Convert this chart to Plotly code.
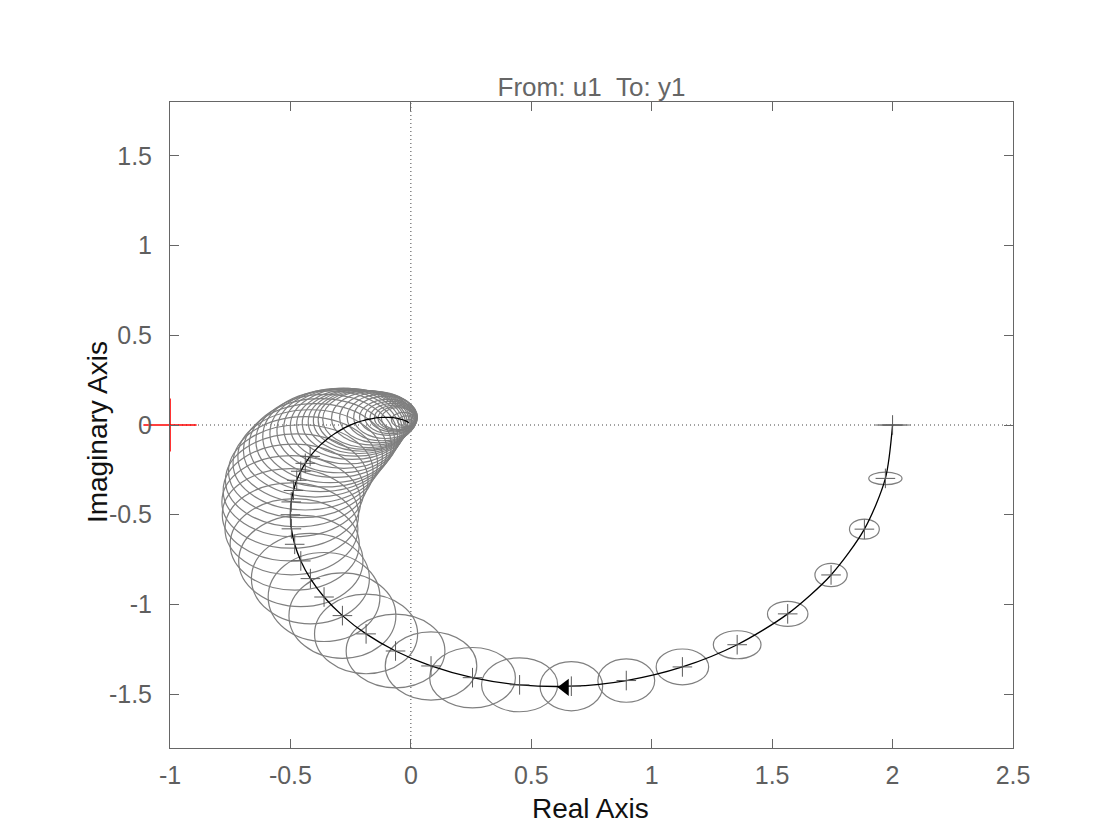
import plotly.graph_objects as go

# Frequency points (rad/s) of the estimated response
omega = [0.00, 0.05, 0.10, 0.15, 0.20, 0.25, 0.30, 0.35, 0.40, 0.45, 0.50,
         0.55, 0.60, 0.65, 0.70, 0.75, 0.80, 0.85, 0.90, 0.95, 1.00,
         1.05, 1.10, 1.15, 1.20, 1.25, 1.30, 1.35, 1.40, 1.45, 1.50,
         1.55, 1.60, 1.65, 1.70, 1.75, 1.80, 1.85, 1.90, 1.95, 2.00,
         2.10, 2.20, 2.30, 2.40, 2.50, 2.60, 2.70, 2.80, 2.90, 3.00,
         3.50, 4.00, 5.00]

# Nominal response (real / imaginary parts)
resp_re = [2.0000, 1.9702, 1.8830, 1.7446, 1.5646, 1.3548, 1.1274, 0.8944, 0.6663, 0.4515, 0.2560,
           0.0837, -0.0636, -0.1859, -0.2842, -0.3604, -0.4171, -0.4569, -0.4823, -0.4959, -0.5000,
           -0.4966, -0.4873, -0.4738, -0.4571, -0.4383, -0.4182, -0.3974, -0.3763, -0.3555, -0.3350,
           -0.3152, -0.2961, -0.2779, -0.2606, -0.2442, -0.2288, -0.2143, -0.2007, -0.1879, -0.1760,
           -0.1545, -0.1358, -0.1195, -0.1054, -0.0932, -0.0825, -0.0733, -0.0652, -0.0582, -0.0520,
           -0.0307, -0.0191, -0.0084]
resp_im = [0.0000, -0.2975, -0.5804, -0.8356, -1.0526, -1.2245, -1.3482, -1.4241, -1.4556, -1.4480, -1.4080,
           -1.3428, -1.2594, -1.1641, -1.0623, -0.9585, -0.8561, -0.7576, -0.6648, -0.5787, -0.5000,
           -0.4287, -0.3648, -0.3080, -0.2577, -0.2136, -0.1750, -0.1414, -0.1123, -0.0872, -0.0655,
           -0.0470, -0.0312, -0.0178, -0.0064, 0.0033, 0.0113, 0.0181, 0.0237, 0.0283, 0.0320,
           0.0374, 0.0406, 0.0423, 0.0429, 0.0426, 0.0418, 0.0407, 0.0392, 0.0377, 0.0360,
           0.0278, 0.0212, 0.0125]

# Confidence-region semi-axes (real / imaginary direction)
conf_rx = [0.075, 0.069, 0.062, 0.067, 0.084, 0.099, 0.109, 0.118, 0.130, 0.158, 0.178,
           0.190, 0.205, 0.214, 0.222, 0.232, 0.245, 0.258, 0.268, 0.276, 0.283,
           0.288, 0.292, 0.296, 0.300, 0.300, 0.300, 0.298, 0.295, 0.288, 0.280,
           0.270, 0.260, 0.250, 0.240, 0.230, 0.222, 0.212, 0.204, 0.197, 0.190,
           0.175, 0.160, 0.145, 0.132, 0.120, 0.108, 0.096, 0.086, 0.078, 0.070,
           0.050, 0.035, 0.020]
conf_ry = [0.002, 0.035, 0.056, 0.065, 0.070, 0.078, 0.100, 0.121, 0.137, 0.150, 0.168,
           0.190, 0.205, 0.222, 0.238, 0.248, 0.252, 0.254, 0.255, 0.256, 0.257,
           0.258, 0.258, 0.259, 0.259, 0.260, 0.260, 0.260, 0.259, 0.258, 0.256,
           0.245, 0.235, 0.224, 0.210, 0.195, 0.185, 0.177, 0.170, 0.164, 0.158,
           0.150, 0.140, 0.130, 0.118, 0.100, 0.090, 0.080, 0.072, 0.065, 0.060,
           0.042, 0.030, 0.018]

# Highest frequency whose "+" marker is visible in the chart
marker_max_omega = 1.3

# Direction arrow location
arrow_re = [0.64]
arrow_im = [-1.462]

# Critical point
crit_re = [-1.0]
crit_im = [0.0]

xtick_vals = [-1, -0.5, 0, 0.5, 1, 1.5, 2, 2.5]
xtick_text = ["-1", "-0.5", "0", "0.5", "1", "1.5", "2", "2.5"]
ytick_vals = [-1.5, -1, -0.5, 0, 0.5, 1, 1.5]
ytick_text = ["-1.5", "-1", "-0.5", "0", "0.5", "1", "1.5"]

FONT = "Liberation Sans, Arial, Helvetica, sans-serif"
AX_COLOR = "#666666"

fig = go.Figure()

# Confidence ellipses (drawn below traces)
for cx, cy, rx, ry in zip(resp_re, resp_im, conf_rx, conf_ry):
    fig.add_shape(type="circle", xref="x", yref="y",
                  x0=cx - rx, x1=cx + rx, y0=cy - ry, y1=cy + ry,
                  line=dict(color="#7f7f7f", width=1.2), layer="below")

# Reference dotted axes
fig.add_hline(y=0, line=dict(color="#444444", width=1, dash="1px,3px"), layer="below")
fig.add_vline(x=0, line=dict(color="#444444", width=1, dash="1px,3px"), layer="below")

# Nominal curve
fig.add_trace(go.Scatter(x=resp_re, y=resp_im, mode="lines",
                         line=dict(color="black", width=1.3, shape="spline", smoothing=0.8),
                         hoverinfo="skip", showlegend=False))

# Frequency markers
mk_re = [r for r, w in zip(resp_re, omega) if w <= marker_max_omega]
mk_im = [i for i, w in zip(resp_im, omega) if w <= marker_max_omega]
fig.add_trace(go.Scatter(x=mk_re, y=mk_im, mode="markers",
                         marker=dict(symbol="cross-thin", size=14,
                                     line=dict(color="#5a5a5a", width=1)),
                         showlegend=False))

# Direction arrow
fig.add_trace(go.Scatter(x=arrow_re, y=arrow_im, mode="markers",
                         marker=dict(symbol="triangle-left", size=15, color="black"),
                         showlegend=False))

# Critical point
fig.add_trace(go.Scatter(x=crit_re, y=crit_im, mode="markers", cliponaxis=False,
                         marker=dict(symbol="cross-thin", size=38,
                                     line=dict(color="red", width=1.6)),
                         showlegend=False))

axis_common = dict(showgrid=False, zeroline=False, showline=True, mirror="ticks",
                   linecolor=AX_COLOR, linewidth=1, ticks="inside", ticklen=9,
                   tickcolor=AX_COLOR, tickwidth=1,
                   tickfont=dict(family=FONT, size=25, color="#5f5f5f"))

fig.update_xaxes(range=[-1, 2.5], tickvals=xtick_vals, ticktext=xtick_text,
                 ticklabelstandoff=5, **axis_common)
fig.update_yaxes(range=[-1.8, 1.8], tickvals=ytick_vals, ticktext=ytick_text,
                 ticklabelstandoff=12, **axis_common)

# Plot area: x 170..1013 px, y 102..748 px (page has an 8 px body margin)
fig.update_layout(
    width=1120, height=840,
    margin=dict(l=162, r=115, t=94, b=100),
    paper_bgcolor="white", plot_bgcolor="white",
    title=dict(text="From: u1\u00a0\u00a0To: y1", x=0.5, xref="paper",
               y=1 - 79 / 840, yref="container", yanchor="middle", xanchor="center",
               font=dict(family=FONT, size=26, color="#666666")),
    showlegend=False,
    annotations=[
        dict(text="Real Axis", xref="paper", yref="paper", x=0.499, y=-0.093,
             xanchor="center", yanchor="middle", showarrow=False,
             font=dict(family=FONT, size=28, color="#111111")),
        dict(text="Imaginary Axis", xref="paper", yref="paper", x=-0.0866, y=0.489,
             xanchor="center", yanchor="middle", showarrow=False, textangle=-90,
             font=dict(family=FONT, size=28, color="#111111")),
    ],
)

fig.write_html("out.html")
